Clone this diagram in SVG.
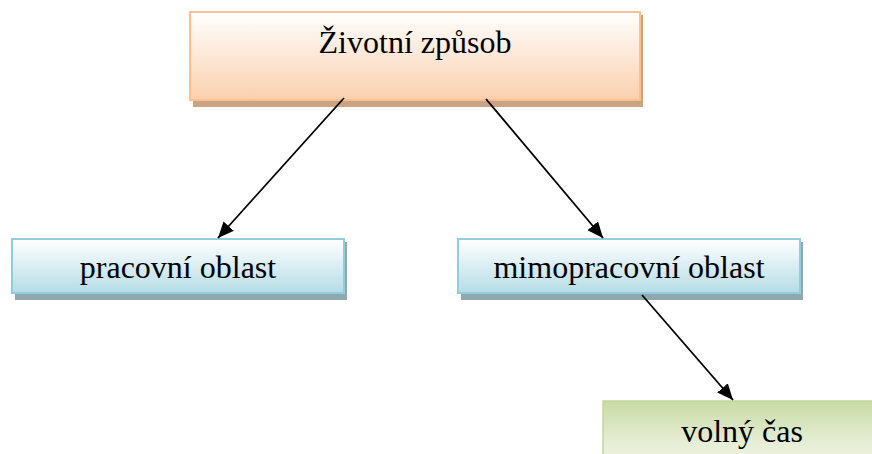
<svg xmlns="http://www.w3.org/2000/svg" width="872" height="454" viewBox="0 0 872 454">
<defs>
<linearGradient id="gOrange" x1="0" y1="0" x2="0" y2="1">
<stop offset="0" stop-color="#FFFFFF"/>
<stop offset="1" stop-color="#FAD0AE"/>
</linearGradient>
<linearGradient id="gBlue" x1="0" y1="0" x2="0" y2="1">
<stop offset="0" stop-color="#FFFFFF"/>
<stop offset="1" stop-color="#B5DCE6"/>
</linearGradient>
<linearGradient id="gGreen" x1="0" y1="0" x2="0" y2="1">
<stop offset="0" stop-color="#C8DBA4"/>
<stop offset="0.7" stop-color="#E6EED6"/>
<stop offset="1" stop-color="#EEF3E4"/>
</linearGradient>
<marker id="arrow" viewBox="0 0 16 14" refX="16" refY="7" markerWidth="16" markerHeight="14" markerUnits="userSpaceOnUse" orient="auto">
<path d="M0,0 L16,7 L0,14 Z" fill="#000"/>
</marker>
<style>
.txt{font-family:"Liberation Serif","Times New Roman",serif;font-size:32px;fill:#000;text-anchor:middle}
.orange{fill:url(#gOrange);stroke:#FAC090;stroke-width:2}
.blue{fill:url(#gBlue);stroke:#93CDDD;stroke-width:2}
.green{fill:url(#gGreen);stroke:#C3D69B;stroke-width:1.5}
.shO{fill:#C9A383}
.shB{fill:#8FA8AE}
.conn{stroke:#000;stroke-width:1.8;fill:none;marker-end:url(#arrow)}
</style>
</defs>
<rect width="872" height="454" fill="#fff"/>
<g id="node-zivotni-zpusob">
<rect class="shO" x="193" y="15" width="450" height="92"/>
<rect class="orange" x="190" y="12" width="450" height="88"/>
<text class="txt" x="415" y="53">Životní způsob</text>
</g>
<g id="node-pracovni-oblast">
<rect class="shB" x="15" y="242" width="332" height="58"/>
<rect class="blue" x="12" y="239" width="332" height="54"/>
<text class="txt" x="178" y="278">pracovní oblast</text>
</g>
<g id="node-mimopracovni-oblast">
<rect class="shB" x="461" y="242" width="342" height="58"/>
<rect class="blue" x="458" y="239" width="342" height="54"/>
<text class="txt" x="629" y="278">mimopracovní oblast</text>
</g>
<g id="node-volny-cas">
<rect class="green" x="603" y="401" width="280" height="60"/>
<text class="txt" x="742" y="442">volný čas</text>
</g>
<g id="connectors">
<line class="conn" x1="344" y1="98" x2="218" y2="238"/>
<line class="conn" x1="486" y1="99" x2="603" y2="238"/>
<line class="conn" x1="642" y1="295" x2="733" y2="400"/>
</g>
</svg>
